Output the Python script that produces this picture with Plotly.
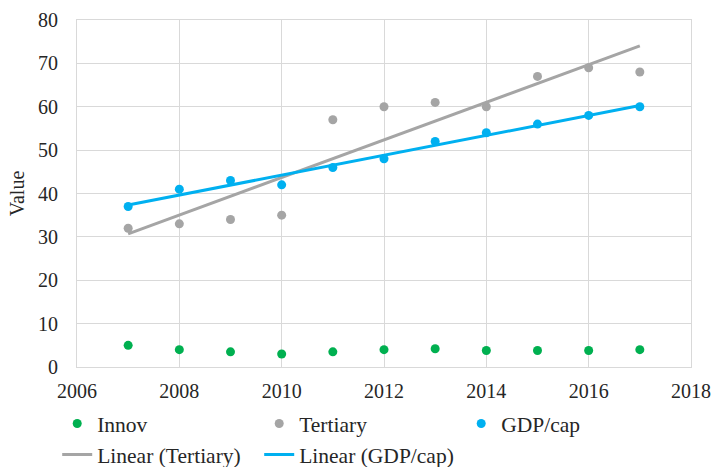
import numpy as np
import plotly.graph_objects as go

years = [2007, 2008, 2009, 2010, 2011, 2012, 2013, 2014, 2015, 2016, 2017]
innov = [5, 4, 3.5, 3, 3.5, 4, 4.2, 3.8, 3.8, 3.8, 4]
tertiary = [32, 33, 34, 35, 57, 60, 61, 60, 67, 69, 68]
gdp_cap = [37, 41, 43, 42, 46, 48, 52, 54, 56, 58, 60]

GREEN = "#00B050"
GRAY = "#A5A5A5"
BLUE = "#00B0F0"
FONT = "Liberation Serif"

x = np.array(years, dtype=float)
def trend(vals):
    m, b = np.polyfit(x, np.array(vals, dtype=float), 1)
    return [x[0], x[-1]], [m * x[0] + b, m * x[-1] + b]

fig = go.Figure()
fig.add_trace(go.Scatter(x=years, y=innov, mode="markers", name="Innov",
                         marker=dict(color=GREEN, size=9)))
fig.add_trace(go.Scatter(x=years, y=tertiary, mode="markers", name="Tertiary",
                         marker=dict(color=GRAY, size=9)))
fig.add_trace(go.Scatter(x=years, y=gdp_cap, mode="markers", name="GDP/cap",
                         marker=dict(color=BLUE, size=9)))
tx, ty = trend(tertiary)
fig.add_trace(go.Scatter(x=tx, y=ty, mode="lines", name="Linear (Tertiary)",
                         line=dict(color=GRAY, width=3)))
gx, gy = trend(gdp_cap)
fig.add_trace(go.Scatter(x=gx, y=gy, mode="lines", name="Linear (GDP/cap)",
                         line=dict(color=BLUE, width=3)))

fig.update_layout(
    width=715, height=467,
    margin=dict(l=77, r=24, t=20, b=100, autoexpand=False),
    paper_bgcolor="white", plot_bgcolor="white",
    font=dict(family=FONT, size=20, color="#262626"),
    showlegend=True,
    legend=dict(orientation="h", xref="container", yref="container",
                x=0.08, xanchor="left", y=0.137, yanchor="top",
                entrywidth=157, entrywidthmode="pixels",
                font=dict(family=FONT, size=21.5, color="#262626"),
                tracegroupgap=0, itemwidth=30),
    xaxis=dict(range=[2006, 2018], dtick=2, tick0=2006, showgrid=True,
               gridcolor="#D9D9D9", gridwidth=1, zeroline=False,
               showline=True, linecolor="#D9D9D9", linewidth=1, mirror=True,
               ticks="", ticklabelstandoff=6,
               tickfont=dict(family=FONT, size=20, color="#262626")),
    yaxis=dict(range=[0, 80], dtick=10, showgrid=True,
               gridcolor="#D9D9D9", gridwidth=1, zeroline=False,
               showline=True, linecolor="#D9D9D9", linewidth=1, mirror=True,
               ticks="", ticklabelstandoff=14,
               tickfont=dict(family=FONT, size=20, color="#262626"),
               title=dict(text="Value", font=dict(family=FONT, size=20, color="#262626"),
                          standoff=8)),
)

fig.write_html("out.html", config={"displayModeBar": False},
               post_script="document.body.style.margin='0';")
